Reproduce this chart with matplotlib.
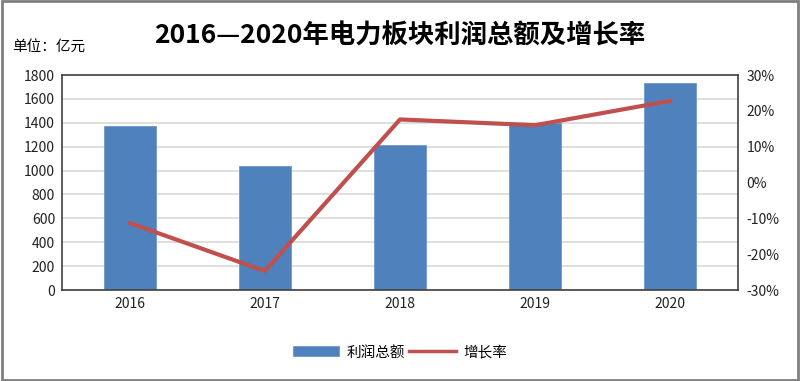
import numpy as np
import matplotlib
matplotlib.use('Agg')
import matplotlib.pyplot as plt
from matplotlib.patches import Rectangle
from matplotlib.lines import Line2D
from matplotlib.ticker import FuncFormatter

plt.rcParams['font.family'] = ['Noto Sans CJK SC', 'DejaVu Sans']

years = ['2016', '2017', '2018', '2019', '2020']
profit = [1375, 1035, 1215, 1395, 1730]
growth = [-11.3, -24.7, 17.6, 16.0, 22.8]

bar_color = '#4F81BD'
line_color = '#C0504D'

fig = plt.figure(figsize=(8, 3.81), dpi=100)
ax = fig.add_axes([0.0775, 0.2388, 0.845, 0.5643])

x = np.arange(len(years))
bars = ax.bar(x, profit, width=0.385, color=bar_color, edgecolor='#6E97CC', linewidth=0.6, zorder=2)
ax.set_xlim(-0.5, len(years) - 0.5)
ax.set_ylim(0, 1800)
ax.set_yticks(np.arange(0, 1801, 200))
ax.set_xticks(x)
ax.set_xticklabels(years)
ax.yaxis.grid(True, color='#D9D9D9', linewidth=1.2, zorder=0)
ax.set_axisbelow(True)
ax.tick_params(length=0, labelsize=10, colors='#222222', pad=5)
for s in ax.spines.values():
    s.set_color('#404040')
    s.set_linewidth(1.2)

ax2 = ax.twinx()
ax2.plot(x, growth, color=line_color, linewidth=3, solid_capstyle='round', zorder=3)
ax2.set_ylim(-30, 30)
ax2.set_yticks(np.arange(-30, 31, 10))
ax2.yaxis.set_major_formatter(FuncFormatter(lambda v, p: f'{int(v)}%'))
ax2.tick_params(length=0, labelsize=10, colors='#222222', pad=6)
for s in ax2.spines.values():
    s.set_visible(False)

fig.text(0.5, 0.905, '2016—2020年电力板块利润总额及增长率', ha='center', va='center',
         fontsize=19, fontweight='bold', color='black')
fig.text(0.015, 0.877, '单位：亿元', ha='left', va='center', fontsize=10.5, color='black')

legend_line = Line2D([], [], color=line_color, linewidth=2.5)
fig.legend([bars, legend_line], ['利润总额', '增长率'], loc='center', bbox_to_anchor=(0.5, 0.075),
           ncol=2, frameon=False, fontsize=10.5, handlelength=3.2, columnspacing=0.3, handletextpad=0.5)

fig.patches.append(Rectangle((0.002, 0.003), 0.996, 0.994, transform=fig.transFigure,
                             fill=False, edgecolor='#7F7F7F', linewidth=2))

fig.savefig('out.png', dpi=100)
